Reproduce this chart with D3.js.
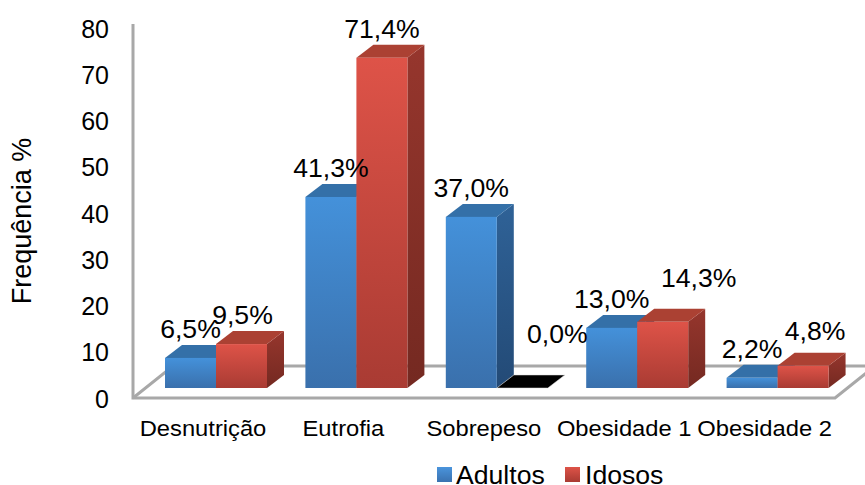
<!DOCTYPE html>
<html><head><meta charset="utf-8">
<script src="https://cdn.jsdelivr.net/npm/d3@7"></script>
<style>html,body{margin:0;padding:0;background:#fff;overflow:hidden}svg{display:block}text{font-family:"Liberation Sans",Arial,sans-serif;fill:#000}</style>
</head><body><svg id="c" width="865" height="485"></svg>
<script>
const categories = ["Desnutrição","Eutrofia","Sobrepeso","Obesidade 1","Obesidade 2"];
const seriesNames = ["Adultos","Idosos"];
const adultos = [6.5,41.3,37.0,13.0,2.2];
const idosos = [9.5,71.4,0.0,14.3,4.8];
const yTicks = [0,10,20,30,40,50,60,70,80];

const svg = d3.select("#c");
const defs = svg.append("defs");
function grad(id,a,b){
  const g=defs.append("linearGradient").attr("id",id).attr("x1",0).attr("y1",0).attr("x2",0).attr("y2",1);
  g.append("stop").attr("offset",0).attr("stop-color",a);
  g.append("stop").attr("offset",1).attr("stop-color",b);
}
grad("f0","#4491da","#3a70ac"); grad("s0","#2f6297","#234a76");
grad("f1","#de5348","#a93b33"); grad("s1","#96362d","#742921");
grad("l0","#4a94dc","#3a72b0"); grad("l1","#de5348","#a93b33");
const topCol=["#3470a8","#ab4133"];

const y = d3.scaleLinear().domain([0,80]).range([398,28]);
const x0 = d3.scaleBand().domain(categories).range([145.8,847.8]).paddingInner(0.2735).paddingOuter(0.1368);
const x1 = d3.scaleBand().domain(seriesNames).range([0,x0.bandwidth()]);

const baseY = 388, depthX = 17, depthY = 13, floorDX = 40, floorDY = 32, axisY = y(0), wallX = 133;
const stretch = 1.065;
const h = v => y(0)-y(v);

// floor and wall
const wall = svg.append("g").attr("fill","none").attr("stroke","#a8a8a8").attr("stroke-width",3);
wall.append("path").attr("d",`M${wallX},24V${axisY}H835L875,${axisY-floorDY}`);
wall.append("path").attr("d",`M${wallX},${axisY}L${wallX+floorDX},${axisY-floorDY}H865`);

// bars
const series=[adultos,idosos];
const nudge = {"0,0%":[35,-25],"14,3%":[36,-15],"4,8%":[12,-6],"9,5%":[1,0]};
const fmt = v => d3.format(".1f")(v).replace(".",",")+"%";
const labels=[];
categories.forEach((c,i)=>{
  const g=svg.append("g");
  seriesNames.forEach((s,k)=>{
    const v=series[k][i], X=x0(c)+x1(s), w=x1.bandwidth(), T=baseY-h(v);
    if(v===0){
      g.append("polygon").attr("points",[[X,T],[X+w,T],[X+w+depthX,T-depthY],[X+depthX,T-depthY]].join(" ")).attr("fill","#000").attr("stroke","#ddd").attr("stroke-width",.5);
    } else {
      g.append("polygon").attr("points",[[X+w,T],[X+w+depthX,T-depthY],[X+w+depthX,baseY-depthY],[X+w,baseY]].join(" ")).attr("fill",`url(#s${k})`);
      g.append("polygon").attr("points",[[X,T],[X+w,T],[X+w+depthX,T-depthY],[X+depthX,T-depthY]].join(" ")).attr("fill",topCol[k]);
      g.append("rect").attr("x",X).attr("y",T).attr("width",w).attr("height",baseY-T).attr("fill",`url(#f${k})`);
    }
    const t=fmt(v), n=nudge[t]||[0,0];
    labels.push({t,x:X+w/2+n[0],y:T-20+n[1]});
  });
});
// labels sit on top of all bars
svg.append("g").selectAll("text").data(labels).join("text")
  .attr("transform",d=>`translate(${d.x},${d.y}) scale(${stretch},1)`).attr("text-anchor","middle")
  .attr("font-size",25).text(d=>d.t);

// y axis
const yAxis=d3.axisLeft(y).tickValues(yTicks).tickSize(0).tickPadding(0);
const ya=svg.append("g").attr("transform","translate(109,0)").call(yAxis);
ya.select(".domain").remove();
ya.selectAll("text").attr("font-size",25).style("font-family",'"Liberation Sans",Arial,sans-serif').attr("dy","0.36em").attr("fill","#000");

// x axis
const xa=svg.append("g").attr("transform","translate(-13,435.5)").call(d3.axisBottom(x0).tickSize(0).tickPadding(0));
xa.select(".domain").remove();
xa.selectAll("text").attr("font-size",22.3).style("font-family",'"Liberation Sans",Arial,sans-serif').attr("dy",0).attr("fill","#000").attr("transform",`scale(${stretch},1)`);

// y title
svg.append("text").attr("transform","translate(31,221) rotate(-90)").attr("text-anchor","middle").attr("font-size",27).text("Frequência %");

// legend
const legX=[437,565];
seriesNames.forEach((s,k)=>{
  svg.append("rect").attr("x",legX[k]).attr("y",467).attr("width",15).attr("height",15).attr("fill",`url(#l${k})`);
  svg.append("text").attr("transform",`translate(${legX[k]+19+k},483.5) scale(${stretch},1)`).attr("font-size",25).text(s);
});
</script></body></html>
